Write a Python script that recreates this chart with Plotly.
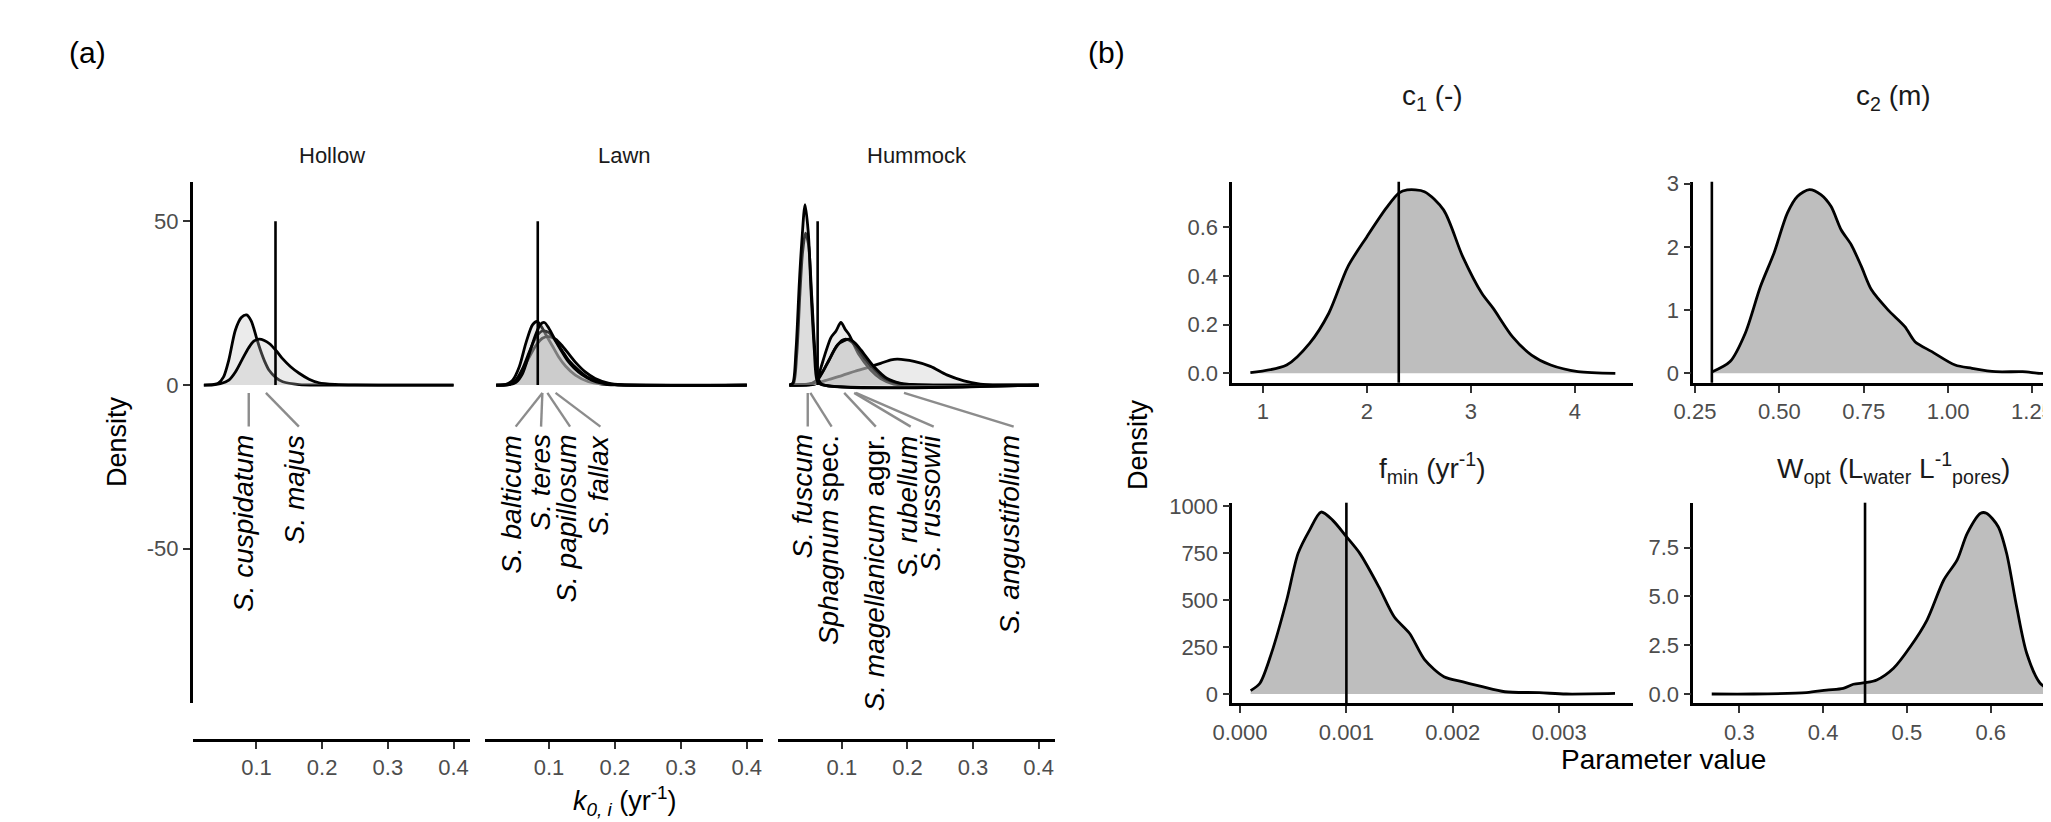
import plotly.graph_objects as go

# ---------------- panel (a): k0,i densities per microform ----------------
# Hollow
cusp_x = [0.02, 0.035, 0.042, 0.05, 0.058, 0.068, 0.077, 0.085, 0.092, 0.100, 0.106, 0.113, 0.119, 0.130, 0.140, 0.165, 0.20, 0.40]
cusp_y = [0, 0.2, 0.6, 2.5, 7.7, 16.8, 20.6, 21.4, 19.6, 14.5, 10.7, 7.0, 4.6, 2.2, 1.0, 0.15, 0, 0]
majus_x = [0.02, 0.032, 0.045, 0.058, 0.068, 0.078, 0.088, 0.096, 0.104, 0.112, 0.120, 0.130, 0.139, 0.152, 0.165, 0.18, 0.195, 0.22, 0.25, 0.40]
majus_y = [0, 0, 0.4, 1.5, 4.0, 7.7, 11.3, 13.4, 14.0, 13.6, 12.6, 10.5, 8.2, 5.6, 3.6, 1.8, 0.7, 0.2, 0.03, 0]

# Lawn
balt_x = [0.02, 0.035, 0.045, 0.055, 0.065, 0.075, 0.082, 0.088, 0.095, 0.105, 0.115, 0.125, 0.14, 0.16, 0.18, 0.2, 0.4]
balt_y = [0, 0.2, 1.5, 5.6, 12.8, 18.4, 19.4, 18.0, 15.5, 12.0, 8.5, 5.8, 3.0, 1.0, 0.3, 0.05, 0]
teres_x = [0.02, 0.04, 0.05, 0.06, 0.07, 0.08, 0.087, 0.093, 0.1, 0.11, 0.118, 0.128, 0.138, 0.15, 0.165, 0.18, 0.2, 0.4]
teres_y = [0, 0.1, 0.8, 3.5, 9.5, 15.5, 18.5, 19.1, 17.3, 13.5, 10.7, 7.5, 5.2, 3.2, 1.5, 0.6, 0.1, 0]
papil_x = [0.02, 0.04, 0.05, 0.06, 0.07, 0.08, 0.09, 0.1, 0.11, 0.12, 0.13, 0.14, 0.155, 0.17, 0.19, 0.21, 0.4]
papil_y = [0, 0.2, 1.5, 4.5, 8.5, 12.0, 14.3, 14.8, 14.0, 12.0, 9.5, 7.0, 4.0, 2.0, 0.6, 0.1, 0]
fallax_x = [0.02, 0.04, 0.05, 0.06, 0.07, 0.08, 0.09, 0.1, 0.11, 0.12, 0.13, 0.145, 0.16, 0.18, 0.2, 0.4]
fallax_y = [0, 0.2, 1.5, 5.0, 10.0, 14.5, 16.5, 16.0, 13.5, 10.5, 7.5, 4.5, 2.2, 0.7, 0.1, 0]

# Hummock
angus_x = [0.02, 0.06, 0.08, 0.1, 0.12, 0.14, 0.159, 0.175, 0.185, 0.21, 0.235, 0.26, 0.286, 0.311, 0.33, 0.4]
angus_y = [0, 0.5, 1.7, 2.9, 4.2, 5.4, 6.6, 7.7, 7.9, 7.2, 5.7, 3.1, 1.3, 0.3, 0, 0]
magel_x = [0.02, 0.05, 0.0605, 0.068, 0.076, 0.0833, 0.091, 0.0985, 0.105, 0.111, 0.126, 0.144, 0.159, 0.179, 0.2, 0.4]
magel_y = [0, 0, 0.5, 5.3, 10.5, 14.5, 16.5, 19.1, 17.0, 15.4, 9.3, 4.6, 2.0, 0.3, 0, 0]
russ_x = [0.02, 0.05, 0.06, 0.07, 0.08, 0.09, 0.1, 0.106, 0.115, 0.125, 0.135, 0.15, 0.165, 0.185, 0.21, 0.4]
russ_y = [0, 0.2, 1.2, 3.8, 7.5, 11.2, 13.6, 14.0, 13.2, 10.8, 8.0, 4.6, 2.0, 0.6, 0.1, 0]
rubel_x = [0.02, 0.056, 0.063, 0.078, 0.0935, 0.104, 0.111, 0.12, 0.129, 0.149, 0.169, 0.19, 0.21, 0.4]
rubel_y = [0, 0.5, 1.5, 6.7, 12.3, 13.6, 14.0, 12.8, 10.7, 5.6, 2.0, 0.5, 0.1, 0]
fusc_x = [0.02, 0.025, 0.030, 0.0351, 0.0388, 0.0438, 0.0488, 0.0529, 0.0579, 0.062, 0.068, 0.4]
fusc_y = [0, 0.5, 10.7, 31.4, 43.6, 55.1, 46.4, 28.8, 10.7, 1.5, 0.2, 0]
spec_x = [0.02, 0.026, 0.031, 0.036, 0.040, 0.0445, 0.049, 0.054, 0.059, 0.064, 0.07, 0.4]
spec_y = [0, 0.5, 9.0, 28.0, 40.5, 46.4, 43.0, 27.0, 10.0, 1.8, 0.2, 0]

# reference values (vertical lines, k0)
k_ref = [0.129, 0.083, 0.063]

# ---------------- panel (b): parameter densities ----------------
c1_x = [0.88, 1.229, 1.449, 1.634, 1.818, 2.001, 2.186, 2.307, 2.388, 2.554, 2.738, 2.922, 3.106, 3.216, 3.40, 3.584, 3.768, 4.03, 4.39]
c1_y = [0.003, 0.034, 0.123, 0.247, 0.439, 0.562, 0.679, 0.741, 0.754, 0.747, 0.672, 0.48, 0.329, 0.267, 0.151, 0.075, 0.034, 0.007, 0.0]
c2_x = [0.30, 0.354, 0.399, 0.444, 0.484, 0.524, 0.554, 0.589, 0.623, 0.653, 0.683, 0.713, 0.743, 0.773, 0.822, 0.872, 0.902, 0.952, 1.021, 1.071, 1.141, 1.221, 1.271, 1.30, 1.40]
c2_y = [0.02, 0.185, 0.634, 1.372, 1.90, 2.536, 2.80, 2.905, 2.826, 2.64, 2.27, 2.033, 1.69, 1.32, 1.003, 0.738, 0.50, 0.342, 0.13, 0.079, 0.025, 0.025, 0.0, 0.0, 0.005]
fmin_x = [0.0001, 0.000187, 0.000295, 0.000439, 0.000546, 0.000654, 0.000762, 0.00087, 0.001, 0.001126, 0.001305, 0.001449, 0.001593, 0.001737, 0.001917, 0.002097, 0.002277, 0.00249, 0.002813, 0.003065, 0.003525]
fmin_y = [18, 57, 216, 500, 748, 872, 968, 925, 837, 748, 570, 411, 323, 181, 92, 65, 39, 12, 7, 0, 3]
wopt_x = [0.267, 0.317, 0.38, 0.404, 0.424, 0.436, 0.45, 0.464, 0.484, 0.504, 0.524, 0.544, 0.56, 0.572, 0.588, 0.595, 0.609, 0.619, 0.631, 0.643, 0.659, 0.672, 0.68, 0.70]
wopt_y = [0.0, 0.0, 0.07, 0.2, 0.29, 0.5, 0.58, 0.72, 1.32, 2.42, 3.79, 5.84, 6.87, 8.23, 9.26, 9.26, 8.57, 7.21, 4.47, 2.09, 0.55, 0.2, 0.1, 0.0]
par_ref = [2.307, 0.30, 0.001, 0.45]

# the page puts the figure 8 px in from the top-left corner
OFF = 8
W, H = 2051 - OFF, 822 - OFF
def px(x):
    return (x - OFF) / W
def py(y):
    return 1 - (y - OFF) / H

FONT = "Liberation Sans, Arial, Helvetica, sans-serif"
TICKCOL = "#4d4d4d"
FILL_A = "rgba(190,190,190,0.3)"
FILL_B = "#bebebe"

fig = go.Figure()

def dens(x, y, xa, ya, fill):
    fig.add_trace(go.Scatter(x=x, y=y, xaxis=xa, yaxis=ya, mode="lines",
                             fill="tozeroy", fillcolor=fill,
                             line=dict(color="black", width=2.8, shape="spline", smoothing=0.8),
                             hoverinfo="skip", showlegend=False))

dens(cusp_x, cusp_y, "x", "y", FILL_A)
dens(majus_x, majus_y, "x", "y", FILL_A)
dens(balt_x, balt_y, "x2", "y", FILL_A)
dens(papil_x, papil_y, "x2", "y", FILL_A)
dens(fallax_x, fallax_y, "x2", "y", FILL_A)
dens(teres_x, teres_y, "x2", "y", FILL_A)
dens(angus_x, angus_y, "x3", "y", FILL_A)
dens(magel_x, magel_y, "x3", "y", FILL_A)
dens(russ_x, russ_y, "x3", "y", FILL_A)
dens(rubel_x, rubel_y, "x3", "y", FILL_A)
dens(spec_x, spec_y, "x3", "y", FILL_A)
dens(fusc_x, fusc_y, "x3", "y", FILL_A)

dens(c1_x, c1_y, "x4", "y4", FILL_B)
dens(c2_x, c2_y, "x5", "y5", FILL_B)
dens(fmin_x, fmin_y, "x6", "y6", FILL_B)
dens(wopt_x, wopt_y, "x7", "y7", FILL_B)

shapes = []
for xr, v in zip(["x", "x2", "x3"], k_ref):
    shapes.append(dict(type="line", xref=xr, yref="y", x0=v, x1=v, y0=0, y1=50,
                       line=dict(color="black", width=2.6)))
for i, v in zip([4, 5, 6, 7], par_ref):
    shapes.append(dict(type="line", xref="x%d" % i, yref="y%d domain" % i, x0=v, x1=v, y0=0, y1=1,
                       line=dict(color="black", width=2.6)))

# species labels: (axis, text, leader start x, leader end x, label x)
labels = [
    ("x", "<i>S. cuspidatum</i>", 0.0883, 0.0883, 0.0806),
    ("x", "<i>S. majus</i>", 0.1144, 0.1646, 0.157),
    ("x2", "<i>S. balticum</i>", 0.090, 0.0495, 0.043),
    ("x2", "<i>S. teres</i>", 0.090, 0.088, 0.0874),
    ("x2", "<i>S. papillosum</i>", 0.0976, 0.132, 0.127),
    ("x2", "<i>S. fallax</i>", 0.110, 0.178, 0.175),
    ("x3", "<i>S. fuscum</i>", 0.0479, 0.0479, 0.040),
    ("x3", "<i>Sphagnum</i> spec.", 0.0518, 0.0843, 0.0807),
    ("x3", "<i>S. magellanicum</i> aggr.", 0.1035, 0.1517, 0.149),
    ("x3", "<i>S. rubellum</i>", 0.1187, 0.2049, 0.200),
    ("x3", "<i>S. russowii</i>", 0.1213, 0.240, 0.235),
    ("x3", "<i>S. angustifolium</i>", 0.1947, 0.362, 0.356),
]
annotations = []
for xr, txt, x0, x1, xl in labels:
    shapes.append(dict(type="line", xref=xr, yref="y", x0=x0, x1=x1, y0=-2.4, y1=-12.7,
                       line=dict(color="#8c8c8c", width=2.4)))
    annotations.append(dict(xref=xr, yref="y", x=xl, y=-14.6, text=txt, textangle=-90,
                            showarrow=False, xanchor="center", yanchor="top",
                            font=dict(size=28, color="black", family=FONT)))

def paper_text(x, y, txt, size, color="black", angle=0):
    annotations.append(dict(xref="paper", yref="paper", x=px(x), y=py(y), text=txt,
                            showarrow=False, xanchor="center", yanchor="middle", textangle=angle,
                            font=dict(size=size, color=color, family=FONT)))

paper_text(87, 52, "(a)", 30)
paper_text(1106, 52, "(b)", 30)
paper_text(332, 155, "Hollow", 22, "#1a1a1a")
paper_text(624, 155, "Lawn", 22, "#1a1a1a")
paper_text(917, 155, "Hummock", 22, "#1a1a1a")
paper_text(117, 442, "Density", 27, angle=-90)
paper_text(1138, 445, "Density", 27, angle=-90)
paper_text(624, 801, "<i>k</i><sub><i>0, i</i></sub> (yr<sup>-1</sup>)", 27)
paper_text(1663, 759, "Parameter value", 28)
paper_text(1432, 98, "c<sub>1</sub> (-)", 28, "#1a1a1a")
paper_text(1893, 98, "c<sub>2</sub> (m)", 28, "#1a1a1a")
paper_text(1432, 468, "f<sub>min</sub> (yr<sup>-1</sup>)", 28, "#1a1a1a")
paper_text(1893, 468, "W<sub>opt</sub> (L<sub>water</sub> L<sup>-1</sup><sub>pores</sub>)", 28, "#1a1a1a")

axis_common = dict(showline=True, linecolor="black", linewidth=2.6, ticks="outside",
                   ticklen=7, tickwidth=2, tickcolor="#333333", showgrid=False, zeroline=False,
                   automargin=False, ticklabeloverflow="allow",
                   tickfont=dict(size=22, color=TICKCOL, family=FONT), fixedrange=True)

kt = [0.1, 0.2, 0.3, 0.4]
kx = dict(axis_common, range=[0.003, 0.425], tickvals=kt, ticktext=["0.1", "0.2", "0.3", "0.4"],
          anchor="free", position=py(740))

layout = dict(
    width=W, height=H, margin=dict(l=0, r=0, t=0, b=0, pad=0, autoexpand=False),
    paper_bgcolor="white", plot_bgcolor="white", showlegend=False,
    font=dict(family=FONT),
    xaxis=dict(kx, domain=[px(192.7), px(470)]),
    xaxis2=dict(kx, domain=[px(485), px(763.3)]),
    xaxis3=dict(kx, domain=[px(778.3), px(1055)]),
    yaxis=dict(axis_common, domain=[py(703.3), py(181.7)], range=[-97.2, 62.1], anchor="x",
               tickvals=[-50, 0, 50], ticktext=["-50", "0", "50"]),
    xaxis4=dict(axis_common, domain=[px(1232.3), px(1633)], range=[0.706, 4.56], anchor="y4",
                tickvals=[1, 2, 3, 4], ticktext=["1", "2", "3", "4"]),
    yaxis4=dict(axis_common, domain=[py(382.7), py(181.7)], range=[-0.0387, 0.788], anchor="x4",
                tickvals=[0, 0.2, 0.4, 0.6], ticktext=["0.0", "0.2", "0.4", "0.6"]),
    xaxis5=dict(axis_common, domain=[px(1693.3), 1.0], range=[0.245, 1.305], anchor="y5",
                tickvals=[0.25, 0.5, 0.75, 1.0, 1.25], ticktext=["0.25", "0.50", "0.75", "1.00", "1.25"]),
    yaxis5=dict(axis_common, domain=[py(382.7), py(181.7)], range=[-0.149, 3.03], anchor="x5",
                tickvals=[0, 1, 2, 3], ticktext=["0", "1", "2", "3"]),
    xaxis6=dict(axis_common, domain=[px(1232.3), px(1633)], range=[-0.0000724, 0.003694], anchor="y6",
                tickvals=[0, 0.001, 0.002, 0.003], ticktext=["0.000", "0.001", "0.002", "0.003"]),
    yaxis6=dict(axis_common, domain=[py(703.3), py(502.7)], range=[-49.5, 1017.6], anchor="x6",
                tickvals=[0, 250, 500, 750, 1000], ticktext=["0", "250", "500", "750", "1000"]),
    xaxis7=dict(axis_common, domain=[px(1693.3), 1.0], range=[0.245, 0.672], anchor="y7",
                tickvals=[0.3, 0.4, 0.5, 0.6], ticktext=["0.3", "0.4", "0.5", "0.6"]),
    yaxis7=dict(axis_common, domain=[py(703.3), py(502.7)], range=[-0.476, 9.80], anchor="x7",
                tickvals=[0, 2.5, 5, 7.5], ticktext=["0.0", "2.5", "5.0", "7.5"]),
    shapes=shapes,
    annotations=annotations,
)
fig.update_layout(layout)
fig.write_html("out.html")
